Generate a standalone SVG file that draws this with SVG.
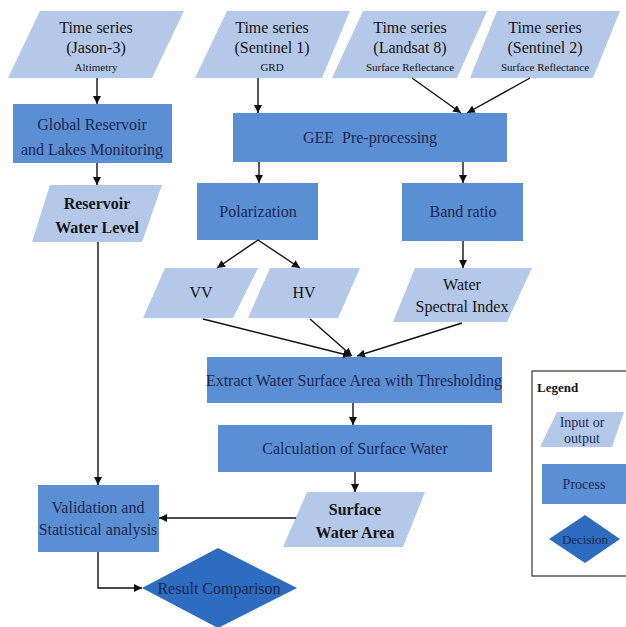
<svg xmlns="http://www.w3.org/2000/svg" width="626" height="627" viewBox="0 0 626 627">
<style>
.io{fill:#b4c8e9}
.pr{fill:#5b8fd4}
.dc{fill:#2e6cbf}
.t,.s,.p,.b,.l,.g{font-family:'Liberation Serif','Times New Roman',serif;text-anchor:middle}
.t{font-size:16px;fill:#141414}
.s{font-size:11px;fill:#141414}
.p{font-size:16px;fill:#1b2850}
.b{font-size:16px;font-weight:bold;fill:#141414}
.l{font-size:14px;fill:#1b2850}
.g{font-size:13px;font-weight:bold;fill:#141414;text-anchor:start}
.c path{fill:none;stroke:#111;stroke-width:1.4;marker-end:url(#ah)}
</style>
<defs>
<marker id="ah" viewBox="0 0 10 10" refX="10" refY="5" markerWidth="8" markerHeight="8" markerUnits="userSpaceOnUse" orient="auto"><path d="M0,0 L10,5 L0,10 z" fill="#111"/></marker>
</defs>
<rect width="626" height="627" fill="#fff"/>
<g id="jason"><polygon class="io" points="40,11 184,11 152,78 8,78"/><text class="t" x="96" y="33">Time series</text><text class="t" x="96" y="53">(Jason-3)</text><text class="s" x="96" y="71">Altimetry</text></g>
<g id="sentinel1"><polygon class="io" points="227,11 350,11 322,78 195,78"/><text class="t" x="272" y="33">Time series</text><text class="t" x="272" y="53">(Sentinel 1)</text><text class="s" x="272" y="71">GRD</text></g>
<g id="landsat8"><polygon class="io" points="363,11 487,11 457,78 332,78"/><text class="t" x="410" y="33">Time series</text><text class="t" x="410" y="53">(Landsat 8)</text><text class="s" x="410" y="71">Surface Reflectance</text></g>
<g id="sentinel2"><polygon class="io" points="497,11 620,11 593,78 470,78"/><text class="t" x="545" y="33">Time series</text><text class="t" x="545" y="53">(Sentinel 2)</text><text class="s" x="545" y="71">Surface Reflectance</text></g>
<g id="global"><rect class="pr" x="13" y="104" width="159" height="59"/><text class="p" x="92" y="130">Global Reservoir</text><text class="p" x="92" y="155">and Lakes Monitoring</text></g>
<g id="rwl"><polygon class="io" points="50,185 162,185 142,242 32,242"/><text class="b" x="97" y="209">Reservoir</text><text class="b" x="97" y="233">Water Level</text></g>
<g id="gee"><rect class="pr" x="233" y="113" width="274" height="49"/><text class="p" x="370" y="143" xml:space="preserve">GEE  Pre-processing</text></g>
<g id="polarization"><rect class="pr" x="197" y="183" width="121" height="57"/><text class="p" x="258" y="217">Polarization</text></g>
<g id="bandratio"><rect class="pr" x="402" y="183" width="121" height="58"/><text class="p" x="463" y="217">Band ratio</text></g>
<g id="vv"><polygon class="io" points="165,268 258,268 233,318 143,318"/><text class="t" x="201" y="298">VV</text></g>
<g id="hv"><polygon class="io" points="270,268 360,268 338,318 248,318"/><text class="t" x="304" y="298">HV</text></g>
<g id="wsi"><polygon class="io" points="415,268 532,268 507,322 393,322"/><text class="t" x="462" y="290">Water</text><text class="t" x="462" y="312">Spectral Index</text></g>
<g id="extract"><rect class="pr" x="207" y="357" width="295" height="46"/><text class="p" x="354" y="386">Extract Water Surface Area with Thresholding</text></g>
<g id="calc"><rect class="pr" x="218" y="425" width="274" height="47"/><text class="p" x="355" y="454">Calculation of Surface Water</text></g>
<g id="swa"><polygon class="io" points="307,492 425,492 403,547 283,547"/><text class="b" x="355" y="515">Surface</text><text class="b" x="355" y="538">Water Area</text></g>
<g id="validation"><rect class="pr" x="38" y="485" width="121" height="67"/><text class="p" x="98" y="513">Validation and</text><text class="p" x="98" y="535">Statistical analysis</text></g>
<g id="result"><polygon class="dc" points="142,588 218,548 297,588 218,628"/><text class="p" x="219" y="594">Result Comparison</text></g>
<g id="legend">
<rect x="532" y="371" width="110" height="205" fill="#fff" stroke="#333" stroke-width="1.2"/>
<text class="g" x="537" y="392">Legend</text>
<polygon class="io" points="557,412 624,412 612,447 540,447"/><text class="l" x="582" y="427">Input or</text><text class="l" x="582" y="443">output</text>
<rect class="pr" x="542" y="464" width="90" height="40"/><text class="l" x="584" y="489">Process</text>
<polygon class="dc" points="549,539 585,515 620,539 585,563"/><text class="l" x="585" y="544" style="font-size:13px">Decision</text>
</g>
<g id="connectors" class="c">
<path d="M97,78 V104"/>
<path d="M97,163 V185"/>
<path d="M98,242 V485"/>
<path d="M258,78 V113"/>
<path d="M412,78 L461,113"/>
<path d="M530,78 L467,113"/>
<path d="M259,162 V183"/>
<path d="M463,162 V183"/>
<path d="M258,240 L217,268"/>
<path d="M258,240 L300,268"/>
<path d="M463,241 V268"/>
<path d="M203,319 L351,356"/>
<path d="M310,319 L352,356"/>
<path d="M462,323 L357,356"/>
<path d="M353,403 V425"/>
<path d="M355,472 V492"/>
<path d="M296,518 H159"/>
<path d="M98,552 V588 H142"/>
</g>
</svg>
